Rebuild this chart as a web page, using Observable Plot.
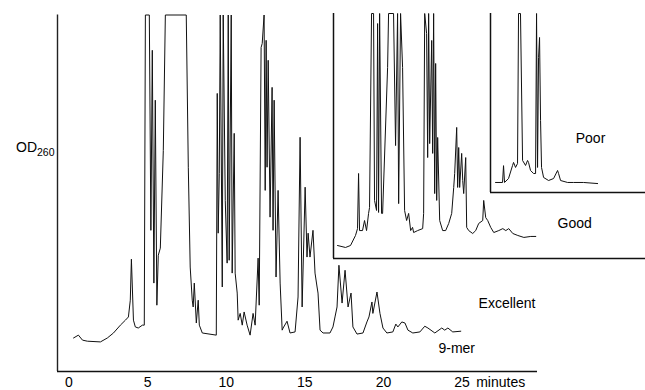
<!DOCTYPE html>
<html>
<head>
<meta charset="utf-8">
<script src="https://cdn.jsdelivr.net/npm/d3@7"></script>
<script src="https://cdn.jsdelivr.net/npm/@observablehq/plot@0.6"></script>
<style>
  body { margin: 0; background: white; }
  #chart { position: relative; width: 645px; height: 390px; overflow: hidden; }
  #chart svg { position: absolute; }
</style>
</head>
<body>
<div id="chart"></div>
<script>
// ---- data (time in minutes, OD260 in relative units, 100 = detector full scale) ----
const xTicks = [0, 5, 10, 15, 20, 25];
const xUnit = "minutes";
const yLabelMain = "OD";
const yLabelSub = "260";
const peakLabel = "9-mer";
const gradeLabels = ["Excellent", "Good", "Poor"];

// "Excellent" synthesis (main trace)
const excellentTrace = [
  [0.29,9.4],[0.60,10.2],[0.86,8.8],[1.17,8.5],[2.00,8.3],[2.44,9.4],[2.83,10.8],[3.27,13.0],
  [3.59,14.4],[3.78,15.3],[3.90,20.0],[3.97,31.5],[4.10,14.4],[4.22,12.5],[4.41,12.2],[4.67,13.0],
  [4.79,13.0],[4.86,100],[5.11,100],[5.21,39.6],[5.30,90.1],[5.40,24.8],[5.49,76.1],[5.59,18.6],
  [5.68,32.6],[5.81,34.6],[6.00,62.0],[6.13,100],[7.46,100],[7.59,57.3],[7.71,29.3],[7.84,20.0],
  [7.90,18.1],[7.97,24.8],[8.10,13.6],[8.22,20.0],[8.29,13.0],[8.48,10.8],[9.37,10.2],[9.43,78.0],
  [9.49,38.8],[9.56,55.6],[9.62,100],[9.75,23.7],[9.81,100],[9.94,48.0],[10.06,30.4],[10.13,100],
  [10.19,31.2],[10.32,100],[10.38,27.6],[10.51,66.8],[10.57,27.6],[10.70,22.0],[10.76,14.4],
  [10.89,16.3],[11.02,13.0],[11.14,16.7],[11.33,13.0],[11.52,10.2],[11.71,16.3],[11.84,13.0],
  [12.03,31.8],[12.10,18.6],[12.22,90.9],[12.29,92.0],[12.41,100],[12.48,50.8],[12.54,92.9],
  [12.60,57.3],[12.67,87.3],[12.79,43.3],[12.92,79.7],[12.98,39.6],[13.05,76.1],[13.17,26.5],
  [13.30,50.8],[13.43,24.8],[13.56,11.6],[13.62,12.2],[13.87,14.1],[14.06,10.8],[14.38,11.1],
  [14.57,20.9],[14.70,65.7],[14.83,18.1],[15.02,51.7],[15.14,32.1],[15.21,38.8],[15.33,32.1],
  [15.52,39.6],[15.65,27.6],[15.78,23.7],[15.84,22.0],[15.97,11.6],[16.16,10.8],[16.60,10.8],
  [16.79,12.5],[16.92,15.3],[17.05,18.1],[17.17,29.8],[17.37,19.2],[17.56,28.4],[17.75,18.1],
  [17.94,22.0],[18.06,12.5],[18.32,10.5],[18.70,10.8],[18.95,13.9],[19.08,15.3],[19.27,19.5],
  [19.33,16.3],[19.59,22.3],[19.78,16.3],[19.97,12.2],[20.22,10.8],[20.60,11.1],[20.79,13.3],
  [20.92,12.5],[21.17,13.9],[21.37,13.6],[21.56,11.6],[21.87,10.8],[22.32,11.1],[22.63,12.7],
  [22.83,12.2],[23.27,10.8],[23.71,12.2],[23.90,11.6],[24.10,12.2],[24.41,11.1],[24.92,11.3]
];

// "Good" synthesis (first inset)
const goodTrace = [
  [0.30,5.3],[1.29,4.5],[1.91,5.3],[2.53,9.4],[2.78,12.2],[2.91,34.7],[3.03,11.4],[3.40,11.4],
  [3.65,15.5],[3.90,11.4],[4.15,18.4],[4.27,20.8],[4.52,100],[4.77,100],[4.89,23.7],[5.14,19.6],
  [5.27,95.9],[5.39,18.8],[5.52,100],[5.76,18.4],[5.89,18.4],[6.51,78.0],[6.63,100],[7.25,100],
  [7.50,46.1],[7.75,100],[7.88,22.4],[8.12,100],[8.37,78.0],[8.62,19.6],[8.87,15.5],[9.12,18.4],
  [9.37,11.4],[9.61,12.7],[9.74,10.6],[10.24,11.4],[10.86,12.2],[10.98,18.4],[11.11,100],
  [11.35,91.8],[11.48,41.2],[11.60,100],[11.73,46.9],[11.98,89.0],[12.10,42.9],[12.22,100],
  [12.35,26.5],[12.47,79.6],[12.60,23.7],[12.72,49.4],[12.97,15.5],[13.34,11.4],[13.71,11.4],
  [14.09,14.3],[14.46,18.4],[14.71,29.0],[14.83,34.7],[15.08,53.5],[15.20,29.0],[15.33,45.3],
  [15.45,29.0],[15.70,42.9],[15.83,31.8],[15.95,26.5],[16.20,41.2],[16.32,12.7],[16.57,11.4],
  [17.07,10.2],[17.44,11.4],[17.81,14.3],[18.31,15.5],[18.43,23.7],[18.68,16.7],[18.93,15.5],
  [19.30,12.7],[19.68,10.6],[20.30,11.4],[20.80,12.2],[21.17,11.4],[21.54,12.2],[22.04,10.2],
  [22.66,9.4],[23.41,8.6],[24.27,9.0],[24.89,9.0]
];

// "Poor" synthesis (second inset)
const poorTrace = [
  [0.29,5.6],[1.98,5.6],[2.22,15.0],[2.46,5.6],[3.42,7.8],[4.39,15.1],[4.63,16.8],[5.11,14.0],
  [5.59,16.2],[5.83,100],[6.30,100],[6.80,17.9],[7.52,15.1],[8.00,17.9],[8.24,16.8],[8.72,12.3],
  [9.45,10.6],[9.93,10.6],[10.17,100],[10.41,14.0],[10.65,75.4],[10.89,86.6],[11.13,40.2],
  [11.37,14.0],[11.86,8.4],[13.06,6.7],[14.27,7.8],[15.23,12.3],[15.47,10.6],[15.95,6.7],
  [17.64,5.6],[19.08,5.6],[21.49,5.6],[24.87,5.0]
];

// ---- rendering ----
const FONT = "'Liberation Sans', Arial, Helvetica, sans-serif";
const toRows = arr => arr.map(([t, v]) => ({t, v}));
const chart = document.getElementById("chart");

const mainX = [-0.73, 29.8];
const main = Plot.plot({
  width: 645, height: 390,
  marginLeft: 57, marginRight: 108, marginTop: 14.5, marginBottom: 19,
  x: {domain: mainX, axis: null},
  y: {domain: [0, 100], axis: null},
  style: {fontFamily: FONT, fontSize: "14px", background: "white", color: "black", overflow: "visible"},
  marks: [
    Plot.ruleX([mainX[0]], {stroke: "#222", strokeWidth: 1.4}),
    Plot.ruleY([0], {stroke: "#111", strokeWidth: 1.4}),
    Plot.axisX(xTicks, {tickSize: 0, tickPadding: 6, fontSize: 14, label: null, tickFormat: d => String(d), fill: "black"}),
    Plot.text([xUnit], {x: 25.9, y: 0, text: d => d, textAnchor: "start", lineAnchor: "top", dy: 6, fontSize: 14, fill: "black"}),
    Plot.line(toRows(excellentTrace), {x: "t", y: "v", stroke: "#111", strokeWidth: 1, strokeLinejoin: "miter", strokeMiterlimit: 1}),
    Plot.text([gradeLabels[0]], {x: 26.05, y: 19.1, text: d => d, textAnchor: "start", fontSize: 14, fill: "black"}),
    Plot.text([peakLabel], {x: 23.5, y: 6.45, text: d => d, textAnchor: "start", fontSize: 14, fill: "black"})
  ]
});
main.style.left = "0px"; main.style.top = "0px";
chart.appendChild(main);

// OD260 y-axis label with subscript
const yl = d3.select(main).append("text")
  .attr("x", 16).attr("y", 152)
  .attr("text-anchor", "start")
  .attr("font-family", FONT).attr("font-size", 14).attr("fill", "black");
yl.append("tspan").text(yLabelMain);
yl.append("tspan").attr("font-size", 10.5).attr("dy", 4).text(yLabelSub);

// Good inset
const goodX = [-0.2, 38.5];
const good = Plot.plot({
  width: 313, height: 260,
  marginLeft: 1, marginRight: 0, marginTop: 13, marginBottom: 2,
  x: {domain: goodX, axis: null},
  y: {domain: [0, 100], axis: null},
  style: {fontFamily: FONT, fontSize: "14px", background: "transparent", color: "black", overflow: "visible"},
  marks: [
    Plot.ruleX([goodX[0]], {stroke: "#111", strokeWidth: 1.5}),
    Plot.ruleY([0], {stroke: "#111", strokeWidth: 1.5}),
    Plot.line(toRows(goodTrace), {x: "t", y: "v", stroke: "#111", strokeWidth: 1}),
    Plot.text([gradeLabels[1]], {x: 27.6, y: 14.3, text: d => d, textAnchor: "start", fontSize: 14, fill: "black"})
  ]
});
good.style.left = "332px"; good.style.top = "0px";
chart.appendChild(good);

// Poor inset
const poorX = [-0.92, 36.4];
const poor = Plot.plot({
  width: 156, height: 194,
  marginLeft: 1, marginRight: 0, marginTop: 13, marginBottom: 2,
  x: {domain: poorX, axis: null},
  y: {domain: [0, 100], axis: null},
  style: {fontFamily: FONT, fontSize: "14px", background: "transparent", color: "black", overflow: "visible"},
  marks: [
    Plot.ruleX([poorX[0]], {stroke: "#111", strokeWidth: 1.5}),
    Plot.ruleY([0], {stroke: "#111", strokeWidth: 1.5}),
    Plot.line(toRows(poorTrace), {x: "t", y: "v", stroke: "#111", strokeWidth: 1}),
    Plot.text([gradeLabels[2]], {x: 19.6, y: 30.2, text: d => d, textAnchor: "start", fontSize: 14, fill: "black"})
  ]
});
poor.style.left = "489px"; poor.style.top = "0px";
chart.appendChild(poor);
</script>
</body>
</html>
